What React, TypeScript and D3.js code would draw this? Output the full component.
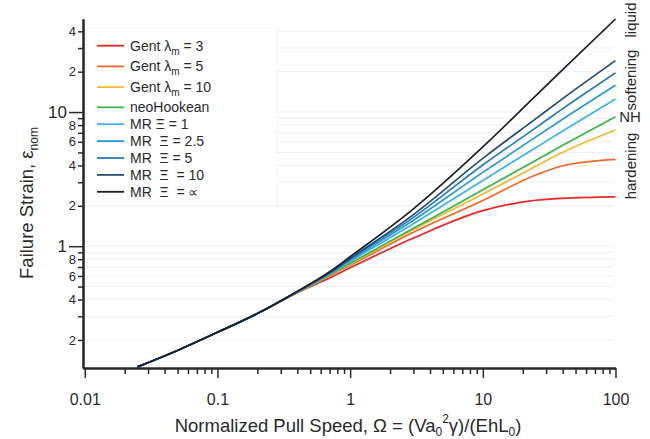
import * as d3 from 'd3'
import { useEffect, useRef } from 'react'

// normalized pull speed (x) and failure strain per model (y)
const omega = [0.025, 0.05, 0.1, 0.2, 0.4, 0.7, 1, 3, 10, 25, 40, 100]
const gent3 = [0.126, 0.167, 0.228, 0.315, 0.45, 0.58, 0.69, 1.15, 1.84, 2.2, 2.275, 2.33]
const gent5 = [0.126, 0.167, 0.228, 0.315, 0.452, 0.6, 0.72, 1.27, 2.19, 3.39, 3.98, 4.44]
const gent10 = [0.126, 0.167, 0.228, 0.315, 0.453, 0.605, 0.735, 1.33, 2.45, 3.94, 5.01, 7.35]
const neoHookean = [0.126, 0.167, 0.228, 0.315, 0.454, 0.61, 0.745, 1.36, 2.63, 4.36, 5.65, 9.23]
const mr1 = [0.126, 0.167, 0.228, 0.315, 0.456, 0.62, 0.77, 1.47, 3.09, 5.42, 7.22, 12.5]
const mr2_5 = [0.126, 0.167, 0.228, 0.315, 0.457, 0.625, 0.785, 1.56, 3.55, 6.5, 8.85, 15.85]
const mr5 = [0.126, 0.167, 0.228, 0.315, 0.458, 0.63, 0.8, 1.64, 4.03, 7.62, 10.6, 19.6]
const mr10 = [0.126, 0.167, 0.228, 0.315, 0.459, 0.635, 0.81, 1.72, 4.52, 8.9, 12.6, 24.2]
const mrInf = [0.126, 0.167, 0.228, 0.315, 0.46, 0.645, 0.835, 1.9, 5.5, 13.2, 20.7, 49.4]

const series = [gent3, gent5, gent10, neoHookean, mr1, mr2_5, mr5, mr10, mrInf]
const colors = ['#e8262b', '#f0692c', '#f4b731', '#3bb54a', '#3ab4ea', '#2a98d5', '#2b7bb5', '#254f78', '#1b1f2a']
const legendLabels = [
    ['Gent λ', 'm', ' = 3'],
    ['Gent λ', 'm', ' = 5'],
    ['Gent λ', 'm', ' = 10'],
    ['neoHookean', '', ''],
    ['MR Ξ = 1', '', ''],
    ['MR  Ξ = 2.5', '', ''],
    ['MR  Ξ = 5', '', ''],
    ['MR  Ξ  = 10', '', ''],
    ['MR  Ξ  = ∝', '', ''],
]

const xMajorTicks = [0.01, 0.1, 1, 10, 100]
const yMajorTicks = [1, 10]
const yLabeledTicks = [0.2, 0.4, 0.6, 0.8, 2, 4, 6, 8, 20, 40]
const yMinorTicks = [0.3, 0.5, 0.7, 0.9, 3, 5, 7, 9, 30]

const sideLabels = [
    { text: 'liquid', y: 20, rotate: true },
    { text: 'softening', y: 80, rotate: true },
    { text: 'NH', y: 117, rotate: false },
    { text: 'hardening', y: 166, rotate: true },
]

export default function App() {
    const ref = useRef<SVGSVGElement>(null)

    useEffect(() => {
        const svg = d3.select(ref.current)
        svg.selectAll('*').remove()
        const font = 'Liberation Sans, Arial, sans-serif'
        const ink = '#2a2a2a'

        const x = d3.scaleLog().domain([0.0097, 100]).range([83, 615.5])
        const y = d3.scaleLog().domain([0.1236, 49.4]).range([368, 19])

        // faint grid lines
        svg.append('g')
            .selectAll('line')
            .data([...yMajorTicks, ...yLabeledTicks, ...yMinorTicks])
            .join('line')
            .attr('x1', 84).attr('x2', 613)
            .attr('y1', d => y(d)).attr('y2', d => y(d))
            .attr('stroke', '#eeeeee').attr('stroke-width', 1)

        // legend box (covers grid)
        svg.append('rect')
            .attr('x', 86).attr('y', 28).attr('width', 191).attr('height', 178)
            .attr('fill', '#fff').attr('stroke', '#f4f4f4')

        // curves
        const line = d3.line<number>()
            .x((d, i) => x(omega[i]))
            .y(d => y(d))
            .curve(d3.curveMonotoneX)
        svg.append('g')
            .selectAll('path')
            .data(series)
            .join('path')
            .attr('d', d => line(d))
            .attr('fill', 'none')
            .attr('stroke', (d, i) => colors[i])
            .attr('stroke-width', 1.7)

        // x axis
        const xMinor = x.ticks().filter(t => !xMajorTicks.some(m => Math.abs(m - t) < 1e-9) && t >= 0.01)
        const styleAxis = (g: any, size: number) => {
            g.attr('font-family', font).attr('font-size', size)
            g.selectAll('line').attr('stroke', ink).attr('stroke-width', 1.5)
            g.selectAll('path').attr('stroke', ink).attr('stroke-width', 1.8)
            g.selectAll('text').attr('fill', ink)
        }
        svg.append('g')
            .attr('transform', 'translate(0,368)')
            .call(d3.axisBottom(x).tickValues(xMinor).tickSize(6).tickFormat(() => '').tickSizeOuter(0))
            .call(g => styleAxis(g, 16))
        svg.append('g')
            .attr('transform', 'translate(0,368)')
            .call(d3.axisBottom(x).tickValues(xMajorTicks).tickSize(10).tickPadding(16).tickFormat(d => String(+d)).tickSizeOuter(0))
            .call(g => styleAxis(g, 16))

        // y axis
        svg.append('g')
            .attr('transform', 'translate(83,0)')
            .call(d3.axisLeft(y).tickValues(yMinorTicks).tickSize(5).tickFormat(() => '').tickSizeOuter(0))
            .call(g => styleAxis(g, 13))
        svg.append('g')
            .attr('transform', 'translate(83,0)')
            .call(d3.axisLeft(y).tickValues(yLabeledTicks).tickSize(5).tickPadding(2)
                .tickFormat(d => String(+d).replace('0.', '').replace('0', '')).tickSizeOuter(0))
            .call(g => styleAxis(g, 13))
        svg.append('g')
            .attr('transform', 'translate(83,0)')
            .call(d3.axisLeft(y).tickValues(yMajorTicks).tickSize(14).tickPadding(2).tickFormat(d => String(+d)).tickSizeOuter(0))
            .call(g => styleAxis(g, 17))

        // legend
        const legend = svg.append('g').attr('font-family', font).attr('font-size', 14).attr('fill', ink)
        legendLabels.forEach((lab, i) => {
            const ry = i < 3 ? 45.7 + i * 20.7 : 107.3 + (i - 3) * 16.9
            legend.append('line')
                .attr('x1', 97).attr('x2', 124).attr('y1', ry).attr('y2', ry)
                .attr('stroke', colors[i]).attr('stroke-width', 1.8)
            const t = legend.append('text').attr('x', 130).attr('y', ry + 5).style('white-space', 'pre')
            t.append('tspan').text(lab[0])
            if (lab[1]) {
                t.append('tspan').attr('font-size', 10).attr('dy', 4).text(lab[1])
                t.append('tspan').attr('dy', -4).text(lab[2])
            }
        })

        // side labels
        sideLabels.forEach(s => {
            svg.append('text')
                .attr('transform', s.rotate ? `translate(631,${s.y}) rotate(-90)` : `translate(630,${s.y})`)
                .attr('text-anchor', 'middle').attr('dy', '0.35em')
                .attr('font-family', font).attr('font-size', 15).attr('fill', ink)
                .text(s.text)
        })

        // axis titles
        const yt = svg.append('text')
            .attr('transform', 'translate(33,203) rotate(-90)')
            .attr('text-anchor', 'middle')
            .attr('font-family', font).attr('font-size', 18.5).attr('fill', ink)
        yt.append('tspan').text('Failure Strain, ε')
        yt.append('tspan').attr('font-size', 12).attr('dy', 5).text('nom')

        const xt = svg.append('text')
            .attr('x', 348).attr('y', 432)
            .attr('text-anchor', 'middle')
            .attr('font-family', font).attr('font-size', 18.5).attr('fill', ink)
        xt.append('tspan').text('Normalized Pull Speed, Ω = (Va')
        xt.append('tspan').attr('font-size', 12).attr('dy', 4).text('0')
        xt.append('tspan').attr('font-size', 12).attr('dy', -13).text('2')
        xt.append('tspan').attr('dy', 9).text('γ)/(EhL')
        xt.append('tspan').attr('font-size', 12).attr('dy', 4).text('0')
        xt.append('tspan').attr('dy', -4).text(')')
    })

    return (
        <svg ref={ref} width={650} height={439} style={{ position: 'absolute', left: 0, top: 0, background: '#fff' }} />
    )
}
